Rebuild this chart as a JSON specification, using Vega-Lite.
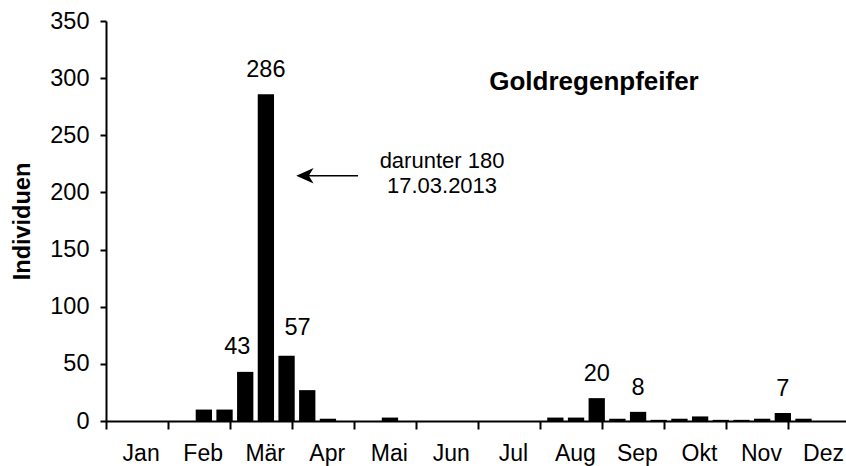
{
  "$schema": "https://vega.github.io/schema/vega-lite/v6.json",
  "width": 740,
  "height": 400,
  "autosize": {"type": "none"},
  "padding": {"left": 106, "top": 21, "right": 0, "bottom": 45},
  "background": "white",
  "config": {
    "font": "Liberation Sans",
    "view": {"stroke": null},
    "axis": {"grid": false, "domainColor": "black", "tickColor": "black", "labelColor": "black", "titleColor": "black", "domainWidth": 2, "tickWidth": 2, "labelFont": "Liberation Sans", "titleFont": "Liberation Sans"}
  },
  "resolve": {"scale": {"x": "independent", "y": "independent"}},
  "layer": [
    {
      "data": {
        "values": [
          {"zeit": "Jan I", "anzahl": 0, "beschriftung": "keine"},
          {"zeit": "Jan II", "anzahl": 0, "beschriftung": "keine"},
          {"zeit": "Jan III", "anzahl": 0, "beschriftung": "keine"},
          {"zeit": "Feb I", "anzahl": 0, "beschriftung": "keine"},
          {"zeit": "Feb II", "anzahl": 10, "beschriftung": "keine"},
          {"zeit": "Feb III", "anzahl": 10, "beschriftung": "keine"},
          {"zeit": "Mär I", "anzahl": 43, "beschriftung": "links"},
          {"zeit": "Mär II", "anzahl": 286, "beschriftung": "mitte"},
          {"zeit": "Mär III", "anzahl": 57, "beschriftung": "rechts"},
          {"zeit": "Apr I", "anzahl": 27, "beschriftung": "keine"},
          {"zeit": "Apr II", "anzahl": 2, "beschriftung": "keine"},
          {"zeit": "Apr III", "anzahl": 0, "beschriftung": "keine"},
          {"zeit": "Mai I", "anzahl": 0, "beschriftung": "keine"},
          {"zeit": "Mai II", "anzahl": 3, "beschriftung": "keine"},
          {"zeit": "Mai III", "anzahl": 0, "beschriftung": "keine"},
          {"zeit": "Jun I", "anzahl": 0, "beschriftung": "keine"},
          {"zeit": "Jun II", "anzahl": 0, "beschriftung": "keine"},
          {"zeit": "Jun III", "anzahl": 0, "beschriftung": "keine"},
          {"zeit": "Jul I", "anzahl": 0, "beschriftung": "keine"},
          {"zeit": "Jul II", "anzahl": 0, "beschriftung": "keine"},
          {"zeit": "Jul III", "anzahl": 0, "beschriftung": "keine"},
          {"zeit": "Aug I", "anzahl": 3, "beschriftung": "keine"},
          {"zeit": "Aug II", "anzahl": 3, "beschriftung": "keine"},
          {"zeit": "Aug III", "anzahl": 20, "beschriftung": "mitte"},
          {"zeit": "Sep I", "anzahl": 2, "beschriftung": "keine"},
          {"zeit": "Sep II", "anzahl": 8, "beschriftung": "mitte"},
          {"zeit": "Sep III", "anzahl": 1, "beschriftung": "keine"},
          {"zeit": "Okt I", "anzahl": 2, "beschriftung": "keine"},
          {"zeit": "Okt II", "anzahl": 4, "beschriftung": "keine"},
          {"zeit": "Okt III", "anzahl": 1, "beschriftung": "keine"},
          {"zeit": "Nov I", "anzahl": 1, "beschriftung": "keine"},
          {"zeit": "Nov II", "anzahl": 2, "beschriftung": "keine"},
          {"zeit": "Nov III", "anzahl": 7, "beschriftung": "mitte"},
          {"zeit": "Dez I", "anzahl": 2, "beschriftung": "keine"},
          {"zeit": "Dez II", "anzahl": 0, "beschriftung": "keine"},
          {"zeit": "Dez III", "anzahl": 0, "beschriftung": "keine"}
        ]
      },
      "encoding": {
        "x": {
          "field": "zeit",
          "type": "ordinal",
          "sort": null,
          "scale": {"paddingInner": 0.212, "paddingOuter": 0},
          "axis": {
            "title": null,
            "values": ["Jan I", "Feb I", "Mär I", "Apr I", "Mai I", "Jun I", "Jul I", "Aug I", "Sep I", "Okt I", "Nov I", "Dez I"],
            "bandPosition": 0,
            "labelExpr": "split(datum.value, ' ')[0]",
            "labelOffset": 27,
            "labelAngle": 0,
            "labelFontSize": 23,
            "labelPadding": 13,
            "tickSize": 8
          }
        },
        "y": {
          "field": "anzahl",
          "type": "quantitative",
          "scale": {"domain": [0, 350], "nice": false},
          "axis": {
            "title": "Individuen",
            "values": [0, 50, 100, 150, 200, 250, 300, 350],
            "tickSize": 6,
            "labelFontSize": 23.5,
            "labelPadding": 11,
            "titleFontSize": 23.5,
            "titleFontWeight": "bold",
            "titlePadding": 15
          }
        }
      },
      "layer": [
        {"mark": {"type": "bar", "color": "black", "xOffset": 7}},
        {
          "transform": [{"filter": "datum.beschriftung == 'mitte'"}],
          "mark": {"type": "text", "fontSize": 23.5, "baseline": "alphabetic", "dy": -17, "xOffset": 7, "color": "black"},
          "encoding": {"text": {"field": "anzahl", "type": "quantitative"}}
        },
        {
          "transform": [{"filter": "datum.beschriftung == 'links'"}],
          "mark": {"type": "text", "fontSize": 23.5, "baseline": "alphabetic", "dy": -18, "xOffset": -1, "color": "black"},
          "encoding": {"text": {"field": "anzahl", "type": "quantitative"}}
        },
        {
          "transform": [{"filter": "datum.beschriftung == 'rechts'"}],
          "mark": {"type": "text", "fontSize": 23.5, "baseline": "alphabetic", "dy": -21, "xOffset": 18, "color": "black"},
          "encoding": {"text": {"field": "anzahl", "type": "quantitative"}}
        }
      ]
    },
    {
      "encoding": {
        "x": {"field": "x", "type": "quantitative", "scale": {"domain": [0, 35.788], "nice": false, "zero": false}, "axis": null},
        "y": {"field": "y", "type": "quantitative", "scale": {"domain": [0, 350], "nice": false}, "axis": null}
      },
      "layer": [
        {
          "data": {"values": [{"x": 9.62, "x2": 12.19, "y": 214.6}]},
          "mark": {"type": "rule", "color": "black", "strokeWidth": 1.5},
          "encoding": {"x2": {"field": "x2"}}
        },
        {
          "data": {"values": [{"x": 9.62, "y": 214.6}]},
          "mark": {"type": "point", "shape": "M-1,0L1,-0.9L0.45,0L1,0.9Z", "filled": true, "color": "black", "opacity": 1, "size": 300, "strokeWidth": 0}
        },
        {
          "data": {"values": [{"x": 16.25, "y": 227.5, "text": "darunter 180"}, {"x": 16.25, "y": 205.6, "text": "17.03.2013"}]},
          "mark": {"type": "text", "fontSize": 22, "baseline": "middle", "align": "center", "color": "black"},
          "encoding": {"text": {"field": "text"}}
        },
        {
          "data": {"values": [{"x": 23.6, "y": 296.6, "text": "Goldregenpfeifer"}]},
          "mark": {"type": "text", "fontSize": 26, "fontWeight": "bold", "baseline": "middle", "align": "center", "color": "black"},
          "encoding": {"text": {"field": "text"}}
        }
      ]
    }
  ]
}
